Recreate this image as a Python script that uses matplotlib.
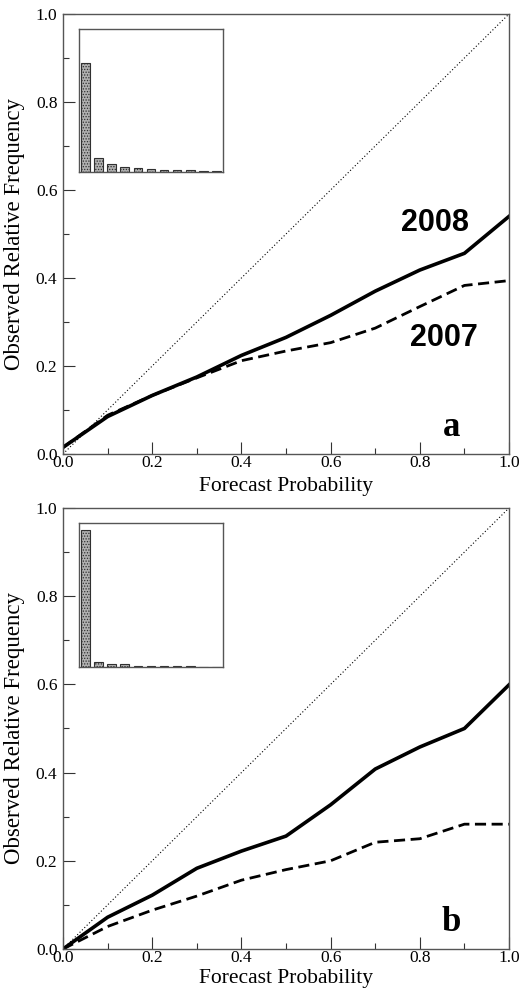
import numpy as np
import matplotlib
matplotlib.use('Agg')
import matplotlib.pyplot as plt
from matplotlib.ticker import MultipleLocator

# forecast probability bins
prob = [0.0, 0.1, 0.2, 0.3, 0.4, 0.5, 0.6, 0.7, 0.8, 0.9, 1.0]

# panel a: reliability curves
obs_a_2008 = [0.015, 0.085, 0.133, 0.175, 0.224, 0.265, 0.315, 0.370, 0.418, 0.456, 0.540]
obs_a_2007 = [0.015, 0.088, 0.133, 0.173, 0.212, 0.234, 0.253, 0.286, 0.335, 0.383, 0.394]
# panel a: forecast frequency per bin
freq_a = [0.765, 0.100, 0.054, 0.035, 0.026, 0.019, 0.012, 0.012, 0.012, 0.005, 0.005]

# panel b
obs_b_2008 = [0.0, 0.072, 0.122, 0.183, 0.222, 0.256, 0.327, 0.408, 0.458, 0.500, 0.599]
obs_b_2007 = [0.0, 0.051, 0.088, 0.120, 0.156, 0.180, 0.200, 0.242, 0.250, 0.283, 0.283]
freq_b = [0.951, 0.037, 0.020, 0.020, 0.010, 0.010, 0.010, 0.010, 0.010, 0.0, 0.0]

SERIF = 'Liberation Serif'
SPINE = '#555555'


def reliability_panel(fig, rect, obs_new, obs_old, letter, xlab_y, year_labels=False):
	ax = fig.add_axes(rect)
	ax.plot([0, 1], [0, 1], color='black', lw=0.8, ls=(0, (1, 2)))
	ax.plot(prob, obs_old, color='black', lw=2.0, ls=(0, (4, 2)))
	ax.plot(prob, obs_new, color='black', lw=2.6)
	ax.set_xlim(0, 1)
	ax.set_ylim(0, 1)
	ax.xaxis.set_major_locator(MultipleLocator(0.2))
	ax.xaxis.set_minor_locator(MultipleLocator(0.1))
	ax.yaxis.set_major_locator(MultipleLocator(0.2))
	ax.yaxis.set_minor_locator(MultipleLocator(0.1))
	ax.tick_params(which='both', direction='in', top=False, right=False, color='#333333')
	ax.tick_params(which='major', length=8.5, width=0.8, labelsize=12.5)
	ax.tick_params(which='minor', length=4, width=0.8)
	ax.tick_params(axis='x', which='major', pad=1)
	ax.tick_params(axis='y', which='major', pad=4)
	ax.set_xticklabels(['%.1f' % v for v in ax.get_xticks()], family=SERIF)
	ax.set_yticklabels(['%.1f' % v for v in ax.get_yticks()], family=SERIF)
	for s in ax.spines.values():
		s.set_color(SPINE)
		s.set_linewidth(1.0)
	ax.set_xlabel('Forecast Probability', family=SERIF, fontsize=15.5)
	ax.set_ylabel('Observed Relative Frequency', family=SERIF, fontsize=16.5)
	ax.xaxis.set_label_coords(0.5, xlab_y)
	ax.yaxis.set_label_coords(-0.108, 0.5)
	ax.xaxis.label.set_va('center')
	ax.yaxis.label.set_va('center')
	ax.text(0.871, 0.06, letter, family=SERIF, fontweight='bold', fontsize=25,
		ha='center', va='center')
	if year_labels:
		ax.text(0.834, 0.525, '2008', family='Liberation Sans', fontweight='bold',
			fontsize=22, ha='center', va='center')
		ax.text(0.853, 0.263, '2007', family='Liberation Sans', fontweight='bold',
			fontsize=22, ha='center', va='center')
	return ax


def freq_inset(fig, rect, freq):
	ax = fig.add_axes(rect)
	ax.bar(range(len(freq)), freq, width=0.66, facecolor='#b0b0b0',
		edgecolor='#303030', hatch='......', linewidth=0.8)
	ax.set_xlim(-0.5, len(freq) - 0.5)
	ax.set_ylim(0, 1)
	ax.set_xticks([])
	ax.set_yticks([])
	for s in ax.spines.values():
		s.set_color(SPINE)
		s.set_linewidth(1.0)
	return ax


plt.rcParams['hatch.linewidth'] = 0.6
fig = plt.figure(figsize=(5.23, 9.96), dpi=100)

reliability_panel(fig, [0.1205, 0.5442, 0.8528, 0.4418], obs_a_2008, obs_a_2007, 'a', -0.075, True)
freq_inset(fig, [0.151, 0.8273, 0.2753, 0.1436], freq_a)

reliability_panel(fig, [0.1205, 0.0472, 0.8528, 0.4428], obs_b_2008, obs_b_2007, 'b', -0.068)
freq_inset(fig, [0.151, 0.3303, 0.2753, 0.1446], freq_b)

fig.savefig('out.png', dpi=100)
plt.close(fig)
